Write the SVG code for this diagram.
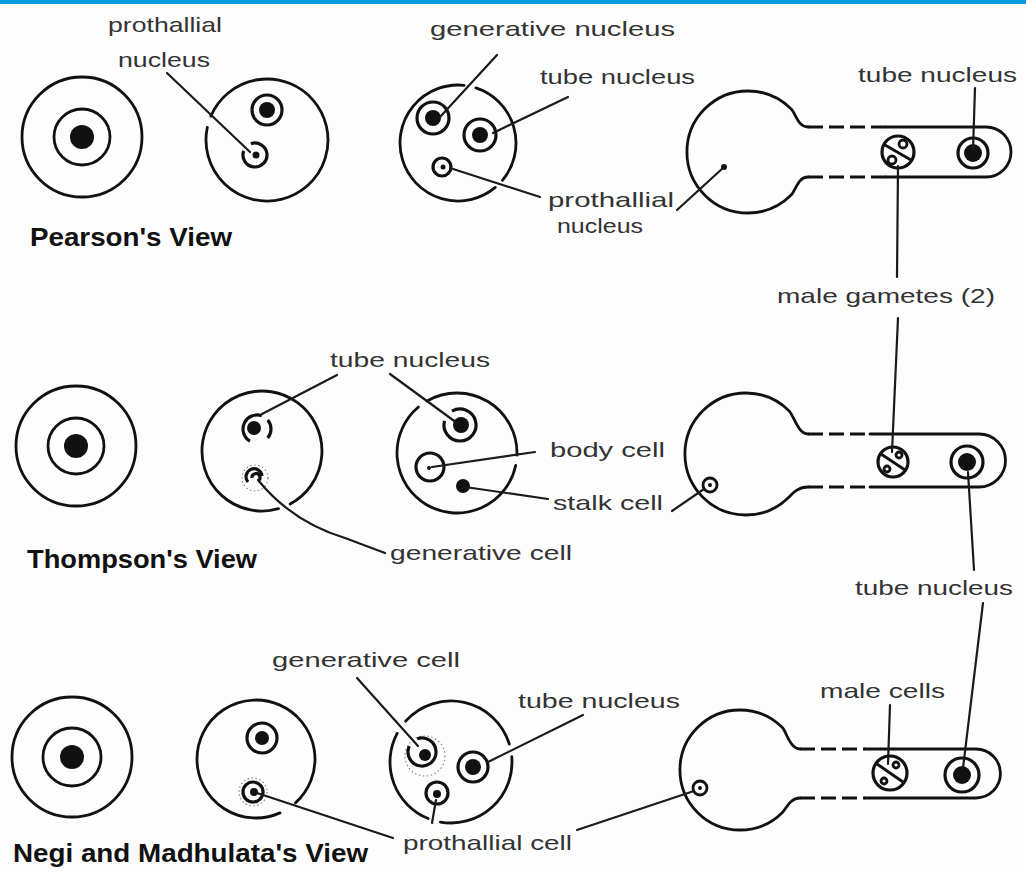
<svg xmlns="http://www.w3.org/2000/svg" width="1026" height="872" viewBox="0 0 1026 872">
  <style>
    .o { fill: none; stroke: #111; stroke-width: 2.8; stroke-linecap: round; }
    .n { fill: none; stroke: #111; stroke-width: 3.2; }
    .l { fill: none; stroke: #1a1a1a; stroke-width: 2.2; stroke-linecap: round; }
    .dash { fill: none; stroke: #111; stroke-width: 2.8; stroke-dasharray: 15 6; }
    .halo { fill: none; stroke: #888; stroke-width: 1.2; stroke-dasharray: 1.5 2.5; }
    .d { fill: #111; }
    .lbl { font-family: "Liberation Sans", Arial, sans-serif; font-size: 21px; fill: #333; }
    .ttl { font-family: "Liberation Sans", Arial, sans-serif; font-size: 25px; font-weight: bold; fill: #111; }
  </style>

  <rect width="1026" height="872" fill="#fdfdfd"/>
  <rect width="1026" height="4" fill="#0a9ddc"/>

  <!-- ===== Pearson's view ===== -->
  <g id="pearson-microspore">
    <circle class="o" cx="82" cy="137" r="60"/>
    <circle class="o" cx="82" cy="137" r="28"/>
    <circle class="d" cx="82" cy="137" r="12"/>
  </g>
  <g id="pearson-two-cell">
    <path class="o" d="M210.85,116.17 A61,61 0 1 1 207.33,127.32"/>
    <circle class="n" cx="267" cy="110" r="15"/>
    <circle class="d" cx="267" cy="110" r="8"/>
    <path class="n" d="M250.9,143.72 A12,12 0 1 1 243.72,150.9"/>
    <circle class="d" cx="256" cy="155" r="3.5"/>
  </g>
  <g id="pearson-three-cell">
    <path class="o" d="M475.92,87.84 A58,58 0 0 1 502.43,180.28 M495.28,187.43 A58,58 0 1 1 464.06,85.32"/>
    <circle class="n" cx="433" cy="118" r="16"/>
    <circle class="d" cx="433" cy="118" r="8"/>
    <circle class="n" cx="480" cy="135" r="16"/>
    <circle class="d" cx="480" cy="135" r="8"/>
    <circle class="n" cx="442" cy="167" r="9"/>
    <circle class="d" cx="443" cy="167" r="2.5"/>
  </g>
  <g id="pearson-tube">
    <path class="o" d="M808,127 C798,127 796,114 791.1,108.9 A61,61 0 1 0 791.1,195.1 C796,190 798,177 808,177"/>
    <line class="dash" x1="808" y1="127" x2="886" y2="127"/>
    <line class="dash" x1="808" y1="177" x2="886" y2="177"/>
    <path class="o" d="M886,127 L986,127 A25,25 0 0 1 986,177 L886,177"/>
    <circle class="d" cx="724" cy="167" r="3"/>
    <circle class="n" cx="898" cy="152" r="16"/>
    <line class="o" x1="885" y1="145" x2="911" y2="160"/>
    <circle class="o" cx="903" cy="144" r="4" stroke-width="1.6"/>
    <circle class="o" cx="892" cy="160" r="4" stroke-width="1.6"/>
    <circle class="n" cx="973" cy="153" r="15"/>
    <circle class="d" cx="973" cy="153" r="9"/>
  </g>

  <!-- ===== Thompson's view ===== -->
  <g id="thompson-microspore">
    <circle class="o" cx="76" cy="446" r="60"/>
    <circle class="o" cx="76" cy="446" r="28"/>
    <circle class="d" cx="76" cy="446" r="12"/>
  </g>
  <g id="thompson-two-cell">
    <path class="o" d="M278.54,508.68 A60,60 0 1 1 290.17,503.97"/>
    <path class="n" d="M250,441.12 A14,14 0 0 1 261.79,415.84 M267.72,420 A14,14 0 0 1 267.72,438"/>
    <circle class="d" cx="254" cy="428" r="7"/>
    <circle class="halo" cx="255" cy="478" r="13"/>
    <path class="n" d="M248,482 A8,8 0 1 1 262,476" stroke-width="2.6"/>
    <path class="n" d="M252,478 A4,4 0 1 1 258,481" stroke-width="2"/>
  </g>
  <g id="thompson-three-cell">
    <path class="o" d="M515.69,465.47 A60,60 0 1 1 418.43,407.04 M427,401.04 A60,60 0 0 1 516.96,455.09"/>
    <path class="n" d="M452,411.14 A16,16 0 1 1 444.55,420.86"/>
    <circle class="d" cx="461" cy="425" r="8"/>
    <circle class="n" cx="430" cy="467" r="14"/>
    <circle class="d" cx="429" cy="468" r="2"/>
    <circle class="d" cx="463" cy="486" r="7"/>
  </g>
  <g id="thompson-tube">
    <path class="o" d="M808,434 C798,434 794,416 789.1,410.9 A61,61 0 1 0 789.1,497.1 C793,493 798,487 808,487"/>
    <line class="dash" x1="808" y1="434" x2="870" y2="434"/>
    <line class="dash" x1="808" y1="487" x2="870" y2="487"/>
    <path class="o" d="M870,434 L979,434 A26.5,26.5 0 0 1 979,487 L870,487"/>
    <circle class="o" cx="710" cy="485" r="7" stroke-width="2"/>
    <circle class="d" cx="710" cy="485" r="2"/>
    <circle class="n" cx="893" cy="462" r="15"/>
    <line class="o" x1="881" y1="454" x2="905" y2="470" stroke-width="2.2"/>
    <circle class="o" cx="899" cy="455" r="3" stroke-width="1.6"/>
    <circle class="o" cx="887" cy="469" r="3" stroke-width="1.6"/>
    <circle class="n" cx="967" cy="462" r="16"/>
    <circle class="d" cx="967" cy="462" r="9"/>
  </g>

  <!-- ===== Negi and Madhulata's view ===== -->
  <g id="negi-microspore">
    <circle class="o" cx="72" cy="757" r="60"/>
    <circle class="o" cx="72" cy="757" r="29"/>
    <circle class="d" cx="72" cy="757" r="12"/>
  </g>
  <g id="negi-two-cell">
    <path class="o" d="M280,812.9 A59,59 0 1 1 295.48,802.84"/>
    <circle class="n" cx="262" cy="738" r="15"/>
    <circle class="d" cx="262" cy="738" r="7"/>
    <circle class="halo" cx="253" cy="792" r="14" stroke="#b99"/>
    <circle class="n" cx="253" cy="792" r="10"/>
    <circle class="d" cx="254" cy="792" r="4"/>
  </g>
  <g id="negi-three-cell">
    <path class="o" d="M405.67,721.18 A61,61 0 0 1 509.33,744.16 M511.77,756.68 A61,61 0 0 1 440.41,822.07 M428.15,818.56 A61,61 0 0 1 397.14,733.36"/>
    <circle class="halo" cx="425" cy="756" r="20"/>
    <path class="n" d="M417.21,738.84 A14,14 0 1 1 409.31,746.08"/>
    <circle class="d" cx="425" cy="755" r="6"/>
    <circle class="n" cx="473" cy="767" r="15"/>
    <circle class="d" cx="473" cy="767" r="8"/>
    <circle class="n" cx="437" cy="793" r="11"/>
    <circle class="d" cx="437" cy="794" r="4"/>
  </g>
  <g id="negi-tube">
    <path class="o" d="M800,749 C790,749 786,731 782.4,727.6 A60,60 0 1 0 782.4,812.4 C786,809 790,798 800,798"/>
    <line class="dash" x1="800" y1="749" x2="865" y2="749"/>
    <line class="dash" x1="800" y1="798" x2="865" y2="798"/>
    <path class="o" d="M865,749 L976,749 A24.5,24.5 0 0 1 976,798 L865,798"/>
    <circle class="o" cx="700" cy="788" r="7" stroke-width="2" stroke="#666"/>
    <circle class="d" cx="700" cy="788" r="2"/>
    <circle class="n" cx="890" cy="773" r="17"/>
    <line class="o" x1="877" y1="764" x2="903" y2="782" stroke-width="2.2"/>
    <circle class="o" cx="896" cy="765" r="3" stroke-width="1.6"/>
    <circle class="o" cx="884" cy="781" r="3" stroke-width="1.6"/>
    <circle class="n" cx="962" cy="775" r="17"/>
    <circle class="d" cx="962" cy="775" r="9"/>
  </g>

  <!-- leader lines -->
  <g id="leaders">
    <line class="l" x1="167" y1="73" x2="250" y2="152"/>
    <line class="l" x1="497" y1="55" x2="440" y2="117"/>
    <line class="l" x1="568" y1="97" x2="493" y2="133"/>
    <path class="l" d="M450,168 Q500,184 540,197"/>
    <line class="l" x1="677" y1="210" x2="723" y2="168"/>
    <line class="l" x1="975" y1="88" x2="973" y2="150"/>
    <line class="l" x1="898" y1="166" x2="897" y2="277"/>
    <line class="l" x1="898" y1="318" x2="892" y2="452"/>
    <line class="l" x1="337" y1="375" x2="262" y2="414"/>
    <line class="l" x1="390" y1="374" x2="457" y2="423"/>
    <line class="l" x1="432" y1="467" x2="535" y2="452"/>
    <line class="l" x1="465" y1="487" x2="548" y2="499"/>
    <path class="l" d="M258,480 Q292,522 345,538 L385,553"/>
    <line class="l" x1="672" y1="511" x2="704" y2="489"/>
    <line class="l" x1="968" y1="472" x2="974" y2="570"/>
    <line class="l" x1="983" y1="603" x2="963" y2="768"/>
    <line class="l" x1="357" y1="678" x2="418" y2="746"/>
    <line class="l" x1="583" y1="715" x2="488" y2="762"/>
    <line class="l" x1="257" y1="793" x2="393" y2="838"/>
    <line class="l" x1="436" y1="800" x2="432" y2="823"/>
    <line class="l" x1="577" y1="830" x2="694" y2="791"/>
    <line class="l" x1="890" y1="705" x2="888" y2="764"/>
  </g>

  <!-- labels -->
  <g id="labels">
    <text class="lbl" x="108" y="32" textLength="114" lengthAdjust="spacingAndGlyphs">prothallial</text>
    <text class="lbl" x="118" y="67" textLength="92" lengthAdjust="spacingAndGlyphs">nucleus</text>
    <text class="lbl" x="430" y="36" textLength="245" lengthAdjust="spacingAndGlyphs">generative nucleus</text>
    <text class="lbl" x="540" y="84" textLength="155" lengthAdjust="spacingAndGlyphs">tube nucleus</text>
    <text class="lbl" x="548" y="207" textLength="126" lengthAdjust="spacingAndGlyphs">prothallial</text>
    <text class="lbl" x="557" y="233" textLength="86" lengthAdjust="spacingAndGlyphs">nucleus</text>
    <text class="lbl" x="858" y="82" textLength="159" lengthAdjust="spacingAndGlyphs">tube nucleus</text>
    <text class="ttl" x="30" y="246" textLength="202" lengthAdjust="spacingAndGlyphs">Pearson's View</text>
    <text class="lbl" x="777" y="303" textLength="218" lengthAdjust="spacingAndGlyphs">male gametes (2)</text>
    <text class="lbl" x="330" y="367" textLength="160" lengthAdjust="spacingAndGlyphs">tube nucleus</text>
    <text class="lbl" x="550" y="457" textLength="115" lengthAdjust="spacingAndGlyphs">body cell</text>
    <text class="lbl" x="553" y="510" textLength="110" lengthAdjust="spacingAndGlyphs">stalk cell</text>
    <text class="lbl" x="390" y="560" textLength="182" lengthAdjust="spacingAndGlyphs">generative cell</text>
    <text class="ttl" x="27" y="568" textLength="230" lengthAdjust="spacingAndGlyphs">Thompson's View</text>
    <text class="lbl" x="855" y="595" textLength="158" lengthAdjust="spacingAndGlyphs">tube nucleus</text>
    <text class="lbl" x="272" y="667" textLength="188" lengthAdjust="spacingAndGlyphs">generative cell</text>
    <text class="lbl" x="518" y="708" textLength="162" lengthAdjust="spacingAndGlyphs">tube nucleus</text>
    <text class="lbl" x="820" y="698" textLength="125" lengthAdjust="spacingAndGlyphs">male cells</text>
    <text class="lbl" x="403" y="850" textLength="169" lengthAdjust="spacingAndGlyphs">prothallial cell</text>
    <text class="ttl" x="13" y="862" textLength="355" lengthAdjust="spacingAndGlyphs">Negi and Madhulata's View</text>
  </g>
</svg>
